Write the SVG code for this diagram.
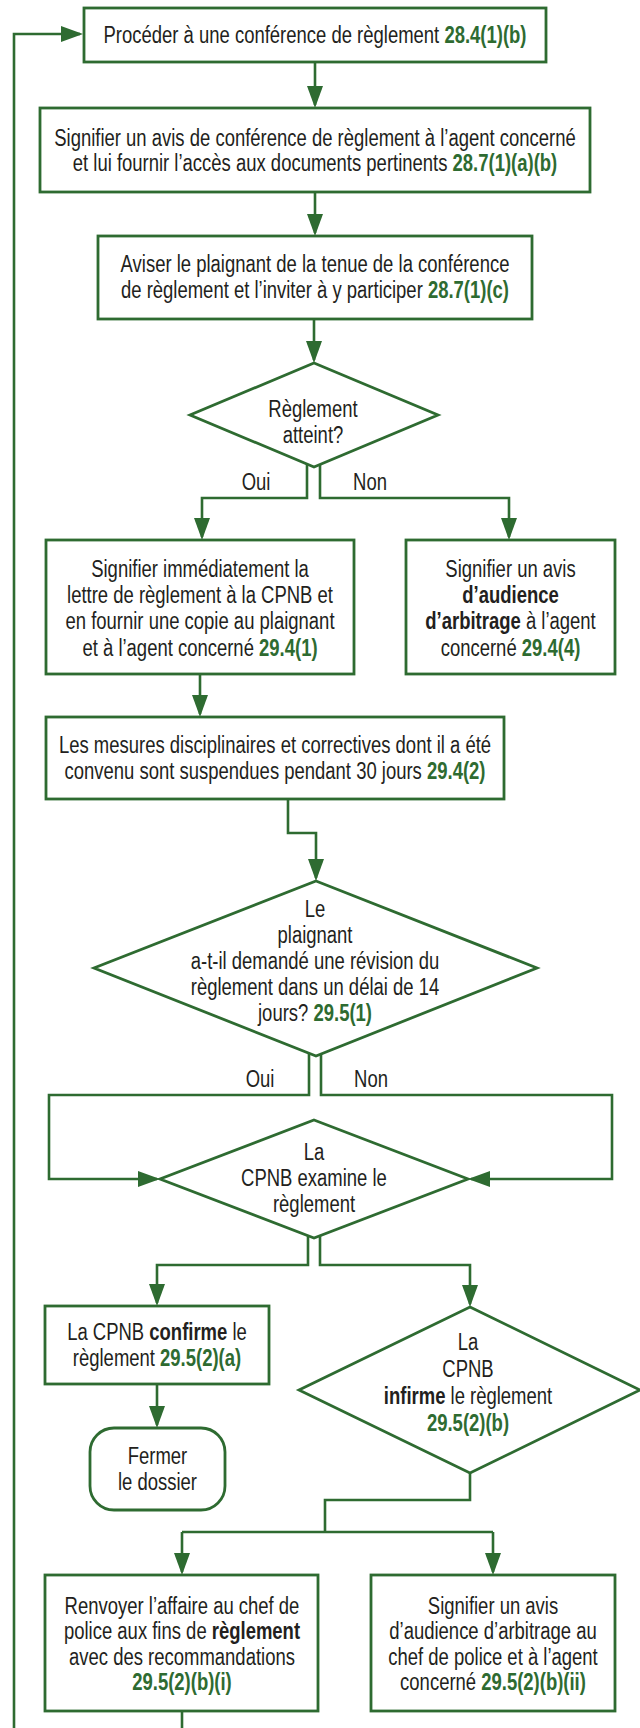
<svg xmlns="http://www.w3.org/2000/svg" width="640" height="1728" viewBox="0 0 640 1728">
  <style>
    .edge { fill: none; stroke: #2e6b31; stroke-width: 2.6; }
    .box { fill: #ffffff; stroke: #2e6b31; stroke-width: 2.8; }
    text { font-family: "Liberation Sans", Arial, sans-serif; font-size: 24px; fill: #231f20; text-anchor: middle; }
    .g { fill: #2e6b31; font-weight: bold; }
    .b { font-weight: bold; }
  </style>
  <defs>
    <marker id="arr" markerUnits="userSpaceOnUse" viewBox="0 0 22 16" markerWidth="22" markerHeight="16" refX="19" refY="8" orient="auto">
      <path d="M0,0 L22,8 L0,16 z" fill="#2e6b31"/>
    </marker>
  </defs>

  <!-- connectors -->
  <g id="connectors">
    <path class="edge" d="M14,1728 V34 H80" marker-end="url(#arr)"/>
    <path class="edge" d="M315,62 V105" marker-end="url(#arr)"/>
    <path class="edge" d="M315,192 V233" marker-end="url(#arr)"/>
    <path class="edge" d="M314,319 V360" marker-end="url(#arr)"/>
    <path class="edge" d="M307,464 V498 H202 V537" marker-end="url(#arr)"/>
    <path class="edge" d="M320,464 V498 H509 V537" marker-end="url(#arr)"/>
    <path class="edge" d="M200,674 V714" marker-end="url(#arr)"/>
    <path class="edge" d="M288,799 V833 H316 V878" marker-end="url(#arr)"/>
    <path class="edge" d="M309,1053 V1095 H49 V1179 H157" marker-end="url(#arr)"/>
    <path class="edge" d="M321,1053 V1095 H612 V1179 H471" marker-end="url(#arr)"/>
    <path class="edge" d="M308,1236 V1265 H157 V1303" marker-end="url(#arr)"/>
    <path class="edge" d="M320,1236 V1265 H470 V1304" marker-end="url(#arr)"/>
    <path class="edge" d="M157,1384 V1425" marker-end="url(#arr)"/>
    <path class="edge" d="M470,1473 V1500 H325 V1532"/>
    <path class="edge" d="M182,1532 H493"/>
    <path class="edge" d="M182,1532 V1572" marker-end="url(#arr)"/>
    <path class="edge" d="M493,1532 V1572" marker-end="url(#arr)"/>
    <path class="edge" d="M182,1711 V1728"/>
    <!-- branch labels -->
    <g transform="translate(256 0) scale(0.77 1)"><text x="0" y="490">Oui</text></g>
    <g transform="translate(370 0) scale(0.77 1)"><text x="0" y="490">Non</text></g>
    <g transform="translate(260 0) scale(0.77 1)"><text x="0" y="1087">Oui</text></g>
    <g transform="translate(371 0) scale(0.77 1)"><text x="0" y="1087">Non</text></g>
  </g>

  <g id="n-conference">
    <rect class="box" x="84" y="8" width="462" height="54"/>
    <g transform="translate(315 0) scale(0.77 1)">
      <text x="0" y="43.5">Procéder à une conférence de règlement <tspan class="g">28.4(1)(b)</tspan></text>
    </g>
  </g>

  <g id="n-avis-agent">
    <rect class="box" x="40" y="108" width="550" height="84"/>
    <g transform="translate(315 0) scale(0.77 1)">
      <text x="0" y="146">Signifier un avis de conférence de règlement à l’agent concerné</text>
      <text x="0" y="171">et lui fournir l’accès aux documents pertinents <tspan class="g">28.7(1)(a)(b)</tspan></text>
    </g>
  </g>

  <g id="n-aviser-plaignant">
    <rect class="box" x="98" y="236" width="434" height="83"/>
    <g transform="translate(315 0) scale(0.77 1)">
      <text x="0" y="272.5">Aviser le plaignant de la tenue de la conférence</text>
      <text x="0" y="298.5">de règlement et l’inviter à y participer <tspan class="g">28.7(1)(c)</tspan></text>
    </g>
  </g>

  <g id="n-reglement-atteint">
    <polygon class="box" points="314,363 438,415 314,467 190,415"/>
    <g transform="translate(313 0) scale(0.77 1)">
      <text x="0" y="417.5">Règlement</text>
      <text x="0" y="443.5">atteint?</text>
    </g>
  </g>

  <g id="n-lettre">
    <rect class="box" x="46" y="540" width="308" height="134"/>
    <g transform="translate(200 0) scale(0.77 1)">
      <text x="0" y="577">Signifier immédiatement la</text>
      <text x="0" y="603">lettre de règlement à la CPNB et</text>
      <text x="0" y="629">en fournir une copie au plaignant</text>
      <text x="0" y="656">et à l’agent concerné <tspan class="g">29.4(1)</tspan></text>
    </g>
  </g>

  <g id="n-audience">
    <rect class="box" x="406" y="540" width="209" height="134"/>
    <g transform="translate(510.5 0) scale(0.77 1)">
      <text x="0" y="577">Signifier un avis</text>
      <text x="0" y="603" class="b">d’audience</text>
      <text x="0" y="629"><tspan class="b">d’arbitrage</tspan> à l’agent</text>
      <text x="0" y="656">concerné <tspan class="g">29.4(4)</tspan></text>
    </g>
  </g>

  <g id="n-mesures">
    <rect class="box" x="46" y="717" width="458" height="82"/>
    <g transform="translate(275 0) scale(0.77 1)">
      <text x="0" y="753">Les mesures disciplinaires et correctives dont il a été</text>
      <text x="0" y="779">convenu sont suspendues pendant 30 jours <tspan class="g">29.4(2)</tspan></text>
    </g>
  </g>

  <g id="n-revision">
    <polygon class="box" points="316,881 537,968 316,1056 94,968"/>
    <g transform="translate(315 0) scale(0.77 1)">
      <text x="0" y="917">Le</text>
      <text x="0" y="943">plaignant</text>
      <text x="0" y="969">a-t-il demandé une révision du</text>
      <text x="0" y="995">règlement dans un délai de 14</text>
      <text x="0" y="1021">jours? <tspan class="g">29.5(1)</tspan></text>
    </g>
  </g>

  <g id="n-examen">
    <polygon class="box" points="314,1120 468,1179 314,1238 160,1179"/>
    <g transform="translate(314 0) scale(0.77 1)">
      <text x="0" y="1160">La</text>
      <text x="0" y="1186">CPNB examine le</text>
      <text x="0" y="1212">règlement</text>
    </g>
  </g>

  <g id="n-confirme">
    <rect class="box" x="45" y="1306" width="224" height="78"/>
    <g transform="translate(157 0) scale(0.77 1)">
      <text x="0" y="1340">La CPNB <tspan class="b">confirme</tspan> le</text>
      <text x="0" y="1366">règlement <tspan class="g">29.5(2)(a)</tspan></text>
    </g>
  </g>

  <g id="n-fermer">
    <rect class="box" x="90" y="1428" width="135" height="82" rx="24" ry="24"/>
    <g transform="translate(157.5 0) scale(0.77 1)">
      <text x="0" y="1464">Fermer</text>
      <text x="0" y="1490">le dossier</text>
    </g>
  </g>

  <g id="n-infirme">
    <polygon class="box" points="470,1307 640,1390 470,1473 299,1390"/>
    <g transform="translate(468 0) scale(0.77 1)">
      <text x="0" y="1350">La</text>
      <text x="0" y="1377">CPNB</text>
      <text x="0" y="1404"><tspan class="b">infirme</tspan> le règlement</text>
      <text x="0" y="1431" class="g">29.5(2)(b)</text>
    </g>
  </g>

  <g id="n-renvoyer">
    <rect class="box" x="45" y="1575" width="273" height="136"/>
    <g transform="translate(182 0) scale(0.77 1)">
      <text x="0" y="1614">Renvoyer l’affaire au chef de</text>
      <text x="0" y="1639.5">police aux fins de <tspan class="b">règlement</tspan></text>
      <text x="0" y="1665">avec des recommandations</text>
      <text x="0" y="1690.5" class="g">29.5(2)(b)(i)</text>
    </g>
  </g>

  <g id="n-arbitrage-chef">
    <rect class="box" x="371" y="1575" width="244" height="136"/>
    <g transform="translate(493 0) scale(0.77 1)">
      <text x="0" y="1614">Signifier un avis</text>
      <text x="0" y="1639.5">d’audience d’arbitrage au</text>
      <text x="0" y="1665">chef de police et à l’agent</text>
      <text x="0" y="1690.5">concerné <tspan class="g">29.5(2)(b)(ii)</tspan></text>
    </g>
  </g>
</svg>
